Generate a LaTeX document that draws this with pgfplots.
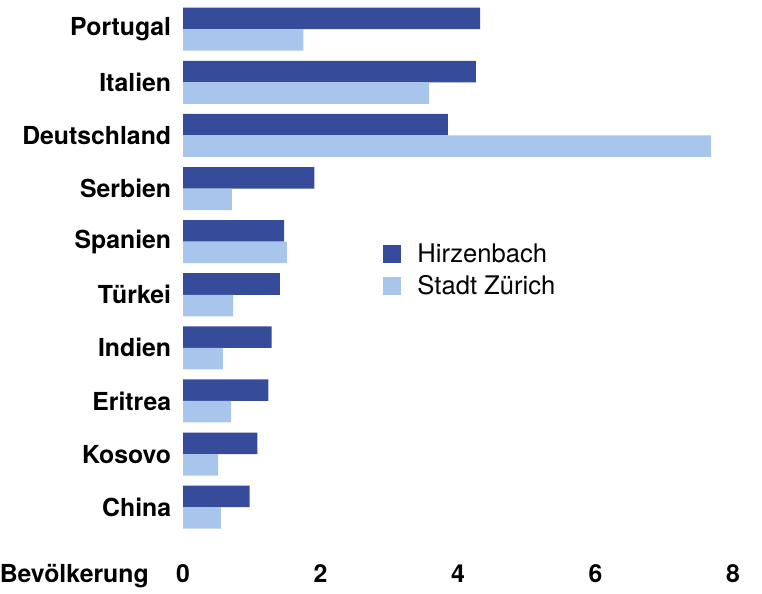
\documentclass[border=0pt]{standalone}
\usepackage{pgfplots}
\pgfplotsset{compat=1.18}
\usepackage{fontspec}
\setmainfont{TeX Gyre Heros}
\definecolor{dk}{RGB}{55,75,155}
\definecolor{lt}{RGB}{168,198,235}
\begin{document}
\begin{tikzpicture}
\begin{axis}[
  x=34.375pt, y=26.55pt,
  xmin=0, xmax=8.42, ymin=-1.62, ymax=9.55,
  xbar=0pt, bar width=10.75pt,
  axis line style={draw=none}, tick style={draw=none},
  xtick={0,2,4,6,8},
  ytick={0,...,9},
  yticklabels={China,Kosovo,Eritrea,Indien,Türkei,Spanien,Serbien,Deutschland,Italien,Portugal},
  yticklabel style={font=\fontsize{12.4}{14}\selectfont\bfseries, inner sep=0pt, xshift=-1.5pt},
  xticklabel style={font=\fontsize{12.4}{14}\selectfont\bfseries, anchor=base, inner sep=0pt, yshift=5.5pt},
  /pgf/number format/assume math mode=true,
  clip=false,
  legend image code/.code={\fill[#1] (0pt,-4.5pt) rectangle (9pt,4.5pt);},
  legend style={at={(axis cs:2.909,5.05)}, anchor=north west, draw=none, fill=none, inner sep=0pt,
    font=\fontsize{12.8}{14}\selectfont, row sep=1pt,
    nodes={inner sep=2pt},
    /tikz/every odd column/.append style={column sep=6pt}},
  legend cell align=left,
]
\addplot[fill=dk, draw=none, bar shift=5.375pt] coordinates {
 (0.97,0) (1.08,1) (1.24,2) (1.29,3) (1.41,4) (1.47,5) (1.91,6) (3.85,7) (4.26,8) (4.32,9)};
\addplot[fill=lt, draw=none, bar shift=-5.375pt] coordinates {
 (0.55,0) (0.51,1) (0.70,2) (0.58,3) (0.73,4) (1.51,5) (0.71,6) (7.68,7) (3.58,8) (1.75,9)};
\legend{Hirzenbach, Stadt Zürich}
\node[anchor=base east, inner sep=0pt, font=\fontsize{12.4}{14}\selectfont\bfseries]
  at ([yshift=5.5pt]axis cs:-0.4945,-1.62) {Bevölkerung};
\coordinate (bl) at (axis cs:-2.662,-1.62);
\coordinate (tr) at (axis cs:8.42,9.55);
\end{axis}
\pgfresetboundingbox
\path (bl) rectangle (tr);
\end{tikzpicture}
\end{document}
